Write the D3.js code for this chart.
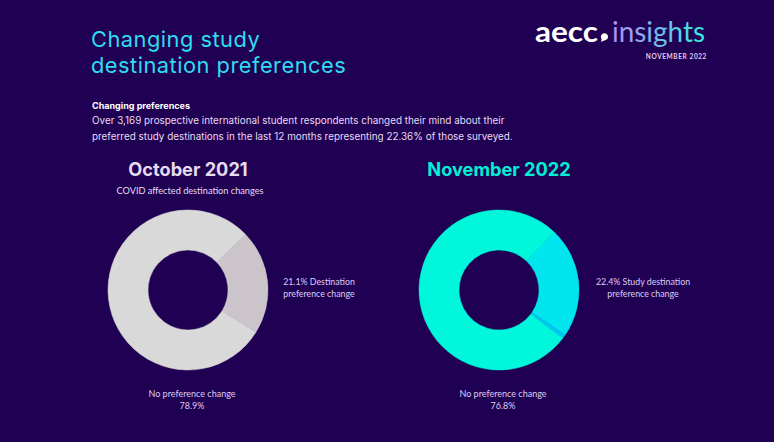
<!DOCTYPE html>
<html>
<head>
<meta charset="utf-8">
<script src="https://cdn.jsdelivr.net/npm/d3@7"></script>
<style>
  html, body { margin: 0; padding: 0; background: #200052; }
  svg { display: block; }
</style>
</head>
<body>
<svg id="chart" width="774" height="442"></svg>
<script>
// ---- data ----
const octLabels = ["Destination preference change", "No preference change"];
const octValues = [21.1, 78.9];
const octColors = ["#cbc5cb", "#d9d9d9"];

const novLabels = ["Study destination preference change", "Other", "No preference change"];
const novValues = [22.4, 0.8, 76.8];
const novColors = ["#00e6ef", "#00c6f0", "#00f7dc"];

const panelTitles = ["October 2021", "November 2022"];
const panelSubtitles = ["COVID affected destination changes", ""];
const changeLabels = [["21.1% Destination", "preference change"], ["22.4% Study destination", "preference change"]];
const noChangeLabels = [["No preference change", "78.9%"], ["No preference change", "76.8%"]];

// ---- drawing ----
const svg = d3.select("#chart");
const W = 774, H = 442;
svg.append("rect").attr("width", W).attr("height", H).attr("fill", "#200052");

const defs = svg.append("defs");
const g1 = defs.append("linearGradient").attr("id", "uline").attr("x1", "0%").attr("x2", "100%");
g1.append("stop").attr("offset", "0%").attr("stop-color", "#b690f2");
g1.append("stop").attr("offset", "100%").attr("stop-color", "#2ee6ee");
const g2 = defs.append("linearGradient").attr("id", "logoGrad").attr("x1", "0%").attr("x2", "100%");
g2.append("stop").attr("offset", "0%").attr("stop-color", "#b48cf2");
g2.append("stop").attr("offset", "100%").attr("stop-color", "#34ecdc");

const font = "Lato, 'Open Sans', sans-serif";
const wide = "Inter, 'Open Sans', sans-serif";

// Title (two lines)
svg.append("text").attr("x", 91).attr("y", 46.5).attr("font-family", wide).attr("font-size", 21.8)
  .attr("letter-spacing", 0.5).attr("fill", "#2fdcf0").text("Changing study");
svg.append("text").attr("x", 91).attr("y", 73).attr("font-family", wide).attr("font-size", 21.8)
  .attr("letter-spacing", 0.5).attr("fill", "#2fdcf0").text("destination preferences");

svg.append("line").attr("x1", 92.5).attr("x2", 242).attr("y1", 89).attr("y2", 89)
  .attr("stroke", "url(#uline)").attr("stroke-width", 3).attr("stroke-linecap", "round");

// Logo
svg.append("text").attr("x", 535).attr("y", 42).attr("font-family", font).attr("font-weight", 700)
  .attr("font-size", 28).attr("fill", "#ffffff").attr("textLength", 63).attr("lengthAdjust", "spacingAndGlyphs")
  .text("aecc");
svg.append("path")
  .attr("d", "M604.5,33.2 a3.6,3.6 0 1 1 -0.1,0 Z")
  .attr("fill", "#ffffff");
svg.append("path")
  .attr("d", "M601.8,38.2 L601,41.8 L604.5,40.4 Z")
  .attr("fill", "#ffffff");
svg.append("text").attr("x", 612).attr("y", 42).attr("font-family", font).attr("font-weight", 400)
  .attr("font-size", 28).attr("fill", "url(#logoGrad)").attr("textLength", 93).attr("lengthAdjust", "spacingAndGlyphs")
  .text("insights");
svg.append("text").attr("x", 707).attr("y", 58.5).attr("text-anchor", "end").attr("font-family", font)
  .attr("font-weight", 700).attr("font-size", 6.5).attr("letter-spacing", 0.6).attr("fill", "#e6cdf2")
  .text("NOVEMBER 2022");

// Intro text
svg.append("text").attr("x", 92).attr("y", 108.5).attr("font-family", wide).attr("font-weight", 700)
  .attr("font-size", 9).attr("fill", "#ffffff").text("Changing preferences");
const body = svg.append("text").attr("font-family", wide).attr("font-size", 9.9).attr("fill", "#e6ddf2");
body.append("tspan").attr("x", 92).attr("y", 123.5)
  .text("Over 3,169 prospective international student respondents changed their mind about their");
body.append("tspan").attr("x", 92).attr("y", 140)
  .text("preferred study destinations in the last 12 months representing 22.36% of those surveyed.");

// Donuts
const panels = [
  { cx: 188, values: octValues, labels: octLabels, colors: octColors, titleColor: "#e4dcf0" },
  { cx: 499, values: novValues, labels: novLabels, colors: novColors, titleColor: "#00f0d6" }
];
const cy = 290, rOuter = 80, rInner = 40;
const arc = d3.arc().innerRadius(rInner).outerRadius(rOuter);
const centreDeg = 84;

panels.forEach((p, i) => {
  const start = (centreDeg - p.values[0] * 3.6 / 2) * Math.PI / 180;
  const pie = d3.pie().sort(null).value(d => d).startAngle(start).endAngle(start + 2 * Math.PI);
  const color = d3.scaleOrdinal().domain(d3.range(p.values.length)).range(p.colors);
  const g = svg.append("g").attr("transform", `translate(${p.cx},${cy})`);
  g.selectAll("path").data(pie(p.values)).join("path")
    .attr("d", arc)
    .attr("fill", (d, j) => color(j))
    .attr("stroke", (d, j) => color(j))
    .attr("stroke-width", 0.5);

  svg.append("text").attr("x", p.cx).attr("y", 176).attr("text-anchor", "middle")
    .attr("font-family", wide).attr("font-weight", 700).attr("font-size", 18.2)
    .attr("fill", p.titleColor).text(panelTitles[i]);
  if (panelSubtitles[i]) {
    svg.append("text").attr("x", p.cx + 2).attr("y", 194).attr("text-anchor", "middle")
      .attr("font-family", font).attr("font-size", 9.2).attr("fill", "#e6ddf2").text(panelSubtitles[i]);
  }
  const lab = svg.append("text").attr("text-anchor", "middle").attr("font-family", font)
    .attr("font-size", 8.8).attr("fill", "#dccdf2");
  changeLabels[i].forEach((t, k) => {
    lab.append("tspan").attr("x", p.cx + (i === 0 ? 131 : 144)).attr("y", 285 + k * 12.3).text(t);
  });
  const lab2 = svg.append("text").attr("text-anchor", "middle").attr("font-family", font)
    .attr("font-size", 9).attr("fill", "#dccdf2");
  noChangeLabels[i].forEach((t, k) => {
    lab2.append("tspan").attr("x", p.cx + 4).attr("y", 397 + k * 11.7).text(t);
  });
});
</script>
</body>
</html>
